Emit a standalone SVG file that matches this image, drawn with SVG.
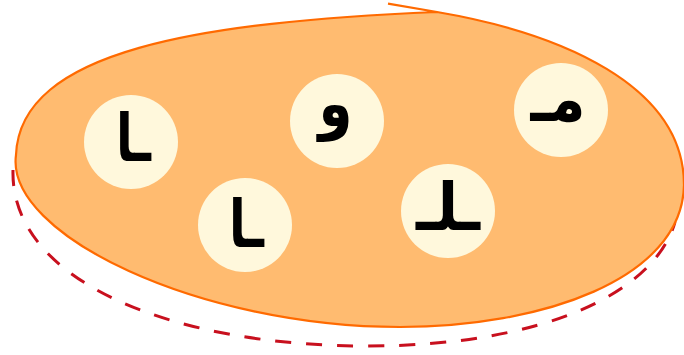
<svg xmlns="http://www.w3.org/2000/svg" width="684" height="355" viewBox="0 0 684 355">
<style>
.blob{fill:#ffbb70;stroke:#ff6a00;stroke-width:2.2}
.dash{fill:none;stroke:#c8101e;stroke-width:3;stroke-dasharray:16 15}
.node circle{fill:#fff8dc}
.node text{font-family:"DejaVu Sans",sans-serif;font-weight:bold;font-size:66px;fill:#000;text-anchor:middle}
</style>
<g id="connectors">
<path class="dash" d="M13,170 C10,280 170,346 367,346 C545,346 655,292 675,222"/>
</g>
<g id="set">
<path class="blob" d="M437,12 C200,22 20,50 16,155 C5,235 200,327 400,327 C540,327 682,280 684,185 C684,85 560,33 437,12 L388,3.6"/>
</g>
<g id="n1" class="node"><circle cx="131" cy="142" r="47"/><text x="133.5" y="161" textLength="35" lengthAdjust="spacingAndGlyphs">ـا</text></g>
<g id="n2" class="node"><circle cx="245" cy="225" r="47"/><text x="246.5" y="247" textLength="35" lengthAdjust="spacingAndGlyphs">ـا</text></g>
<g id="n3" class="node"><circle cx="337" cy="121" r="47"/><text x="335.5" y="126" textLength="34" lengthAdjust="spacingAndGlyphs">و</text></g>
<g id="n4" class="node"><circle cx="448" cy="211" r="47"/><text x="448" y="230" textLength="64" lengthAdjust="spacingAndGlyphs">ـلـ</text></g>
<g id="n5" class="node"><circle cx="561" cy="110" r="47"/><text x="558" y="121" textLength="55" lengthAdjust="spacingAndGlyphs">مـ</text></g>
</svg>
